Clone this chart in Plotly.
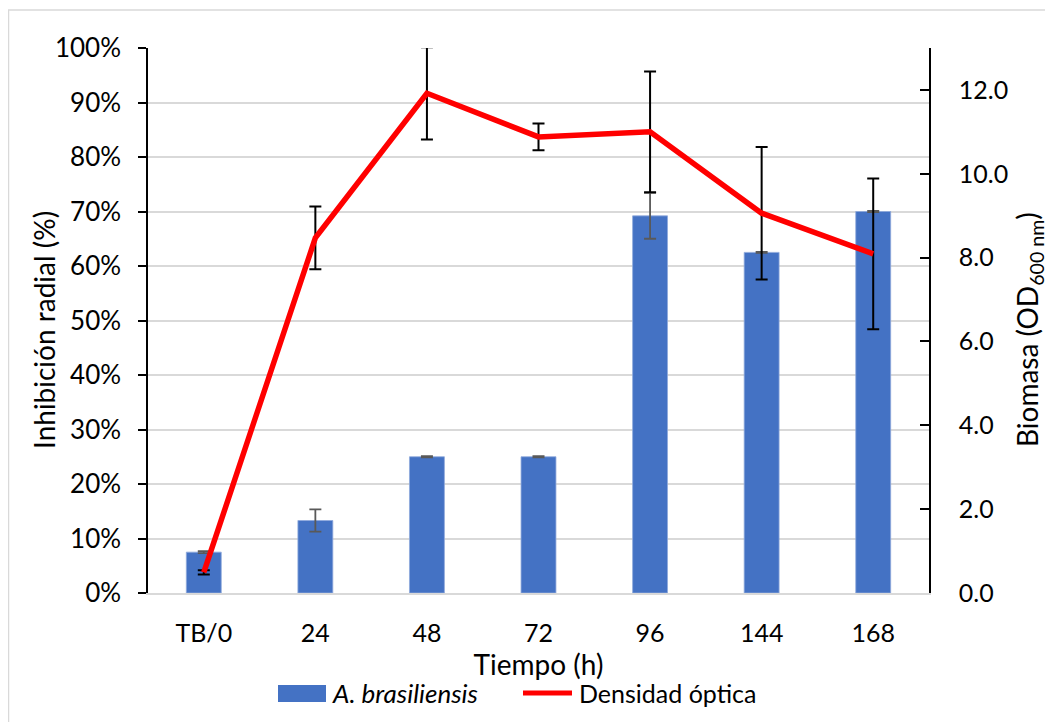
import plotly.graph_objects as go

# ---- data ----
categories = ["TB/0", "24", "48", "72", "96", "144", "168"]
inhibition = [7.5, 13.3, 25.0, 25.0, 69.2, 62.5, 70.0]          # %
inhibition_err = [0.2, 2.05, 0.1, 0.1, 4.2, 0.1, 0.1]
od600 = [0.49, 8.47, 11.92, 10.88, 11.0, 9.06, 8.09]
od600_err = [0.05, 0.75, 1.1, 0.32, 1.44, 1.58, 1.8]

FONT = "Lato"
FS = 25
FT = 28
OFF = 8  # page body margin
W, H = 1053 - OFF, 722 - OFF
L, R, T, B = 148 - OFF, 929 - OFF, 48 - OFF, 593 - OFF

def px(x):
    # x given in page pixels of the reference
    return (x - OFF - L) / (R - L)

def py(y):
    return (B - (y - OFF)) / (B - T)

fig = go.Figure()
fig.add_trace(go.Bar(
    x=categories, y=inhibition, name="A. brasiliensis",
    marker=dict(color="#4472C4", line=dict(color="#8FAADC", width=0.8)),
    width=0.313,
    error_y=dict(type="data", array=inhibition_err, color="#595959",
                 thickness=1.8, width=6),
    showlegend=False, yaxis="y",
))
fig.add_trace(go.Scatter(
    x=categories, y=od600, name="Densidad óptica", mode="lines",
    line=dict(color="#FF0000", width=5.5),
    error_y=dict(type="data", array=od600_err, color="#000000",
                 thickness=2, width=6),
    showlegend=False, yaxis="y2",
))

shapes = [
    # chart border
    dict(type="rect", xref="paper", yref="paper",
         x0=px(8.5), x1=px(1075), y0=py(740), y1=py(10),
         line=dict(color="#D9D9D9", width=1.5), fillcolor="rgba(0,0,0,0)",
         layer="below"),
    # legend symbols
    dict(type="rect", xref="paper", yref="paper",
         x0=px(278), x1=px(326), y0=py(702), y1=py(685),
         line=dict(width=0), fillcolor="#4472C4"),
    dict(type="line", xref="paper", yref="paper",
         x0=px(523), x1=px(572), y0=py(693), y1=py(693),
         line=dict(color="#FF0000", width=5)),
]
annotations = [
    dict(text="<i>A. brasiliensis</i>", xref="paper", yref="paper",
         x=px(330), y=py(693), xanchor="left", yanchor="middle",
         showarrow=False, font=dict(family=FONT, size=FS + 1, color="#000")),
    dict(text="Densidad óptica", xref="paper", yref="paper",
         x=px(577), y=py(693), xanchor="left", yanchor="middle",
         showarrow=False, font=dict(family=FONT, size=FS, color="#000")),
    # axis titles
    dict(text="Inhibición radial (%)", xref="paper", yref="paper",
         x=px(44), y=py(330), xanchor="center", yanchor="middle",
         textangle=-90, showarrow=False,
         font=dict(family=FONT, size=FT, color="#000")),
    dict(text="Biomasa (OD<sub>600 nm</sub>)", xref="paper", yref="paper",
         x=px(1029), y=py(330), xanchor="center", yanchor="middle",
         textangle=-90, showarrow=False,
         font=dict(family=FONT, size=FT, color="#000")),
]

fig.update_layout(
    width=W, height=H,
    margin=dict(l=L, r=W - R, t=T, b=H - B, pad=0),
    paper_bgcolor="white", plot_bgcolor="white",
    font=dict(family=FONT, size=FS, color="#000000"),
    xaxis=dict(
        type="category", showgrid=False, showline=True, linecolor="#D9D9D9",
        linewidth=1.5, ticks="", ticklabelstandoff=17,
        tickfont=dict(size=FS),
        title=dict(text="Tiempo (h)", standoff=2, font=dict(size=FT)),
    ),
    yaxis=dict(
        range=[0, 100], dtick=10, ticksuffix="%", showgrid=True,
        gridcolor="#D9D9D9", gridwidth=1.5, zeroline=False,
        showline=True, linecolor="#000000", linewidth=1.5,
        ticks="outside", ticklen=8, tickcolor="#000000", tickwidth=1.5,
        ticklabelstandoff=12, tickfont=dict(size=FS + 1),
    ),
    yaxis2=dict(
        range=[0, 13], dtick=2, tickformat=".1f", overlaying="y", side="right",
        showgrid=False, zeroline=False, showline=True, linecolor="#000000",
        linewidth=1.5, ticks="inside", ticklen=9, tickcolor="#000000",
        tickwidth=1.5, ticklabelstandoff=23, tickfont=dict(size=FS),
    ),
    shapes=shapes,
    annotations=annotations,
)

fig.write_html("out.html")
